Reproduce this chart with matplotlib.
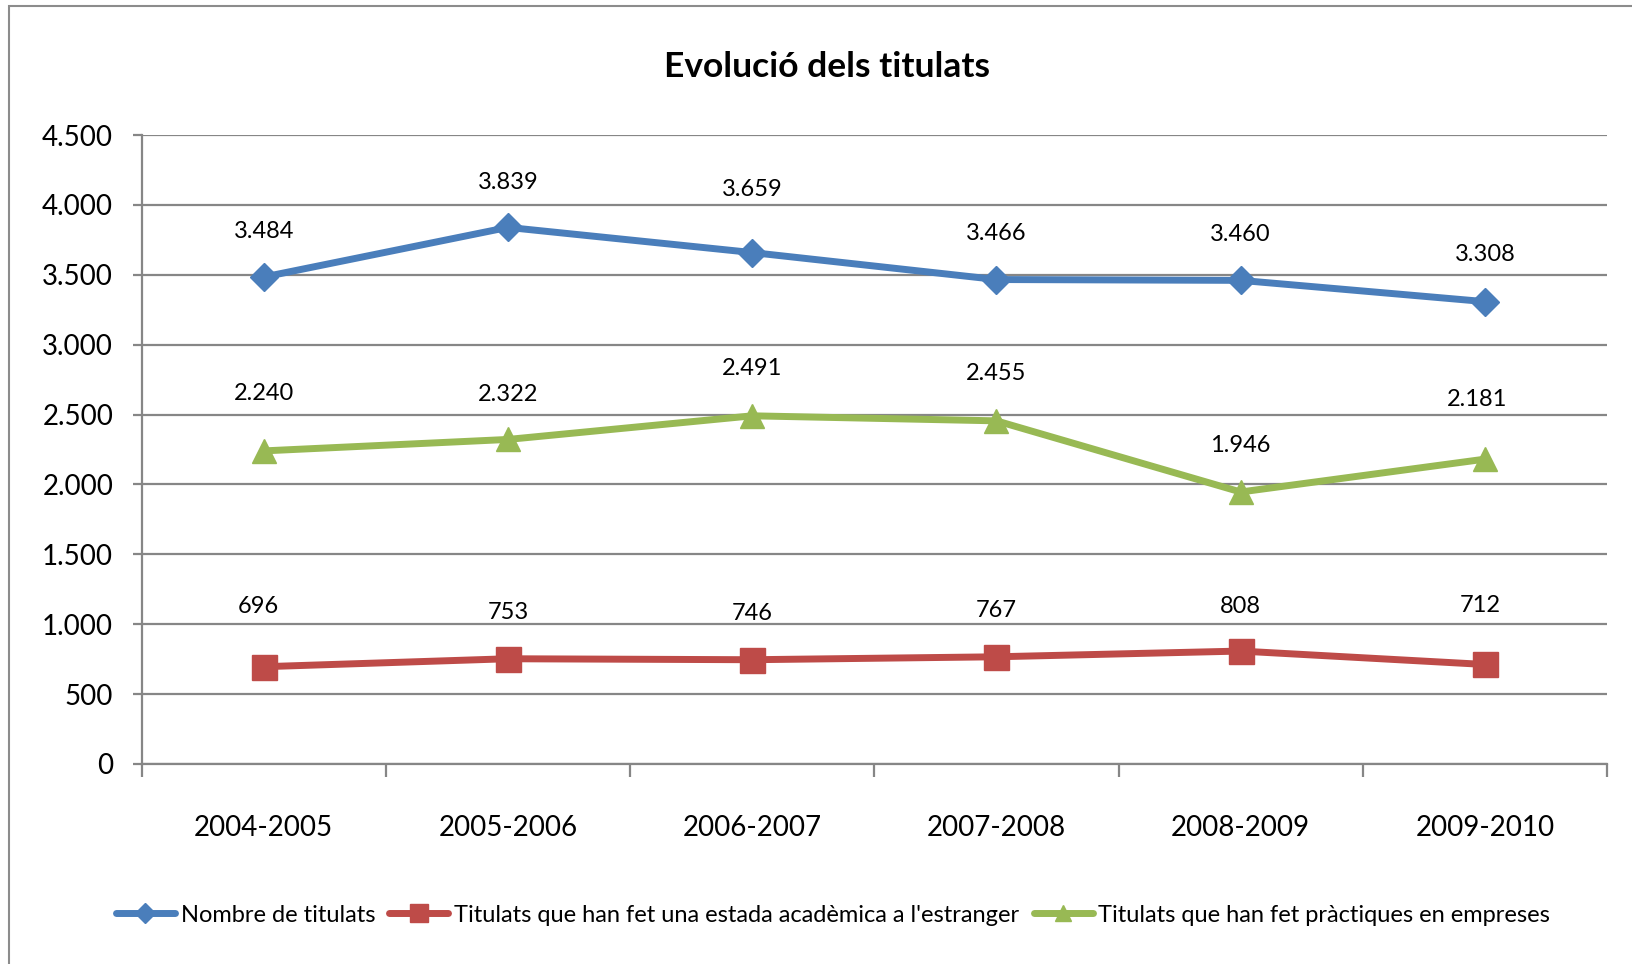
import numpy as np
import matplotlib
matplotlib.use("Agg")
import matplotlib.pyplot as plt
from matplotlib.patches import Rectangle

# Dades del gràfic
cursos = ['2004-2005', '2005-2006', '2006-2007', '2007-2008', '2008-2009', '2009-2010']
nombre_titulats = [3484, 3839, 3659, 3466, 3460, 3308]
estada_estranger = [696, 753, 746, 767, 808, 712]
practiques_empreses = [2240, 2322, 2491, 2455, 1946, 2181]

noms_series = ['Nombre de titulats',
               "Titulats que han fet una estada acadèmica a l'estranger",
               'Titulats que han fet pràctiques en empreses']

# Desplaçament de les etiquetes (píxels) respecte al punt
despl_y = {
    'blau': [46, 45, 63, 46, 46, 47],
    'vermell': [60, 46, 46, 46, 45, 59],
    'verd': [57, 45, 47, 47, 46, 60],
}
despl_x = {
    'blau': [0, 0, 0, 0, 0, 0],
    'vermell': [-5, 0, 0, 0, 0, -5],
    'verd': [0, 0, 0, 0, 0, -8],
}

colors = {'blau': '#4A7EBB', 'vermell': '#BE4B48', 'verd': '#98B954'}
gris = '#868686'

plt.rcParams['font.family'] = ['Lato', 'DejaVu Sans']

fig = plt.figure(figsize=(16.33, 9.64), dpi=100)
ax = fig.add_axes([141.6 / 1633, 1 - 764 / 964, (1607 - 141.6) / 1633, (764 - 135) / 964])

x = np.arange(len(cursos)) + 0.5
px = 72 / 100  # punts per píxel

series = [
    ('blau', nombre_titulats, 'D', 14, noms_series[0]),
    ('vermell', estada_estranger, 's', 18, noms_series[1]),
    ('verd', practiques_empreses, '^', 17, noms_series[2]),
]

for clau, valors, marcador, mida, nom in series:
    ax.plot(x, valors, color=colors[clau], lw=5, marker=marcador, ms=mida,
            label=nom, zorder=3, solid_capstyle='round')
    for i, v in enumerate(valors):
        etiqueta = f"{v:,}".replace(',', '.')
        ax.annotate(etiqueta, (x[i], v),
                    xytext=(despl_x[clau][i] * px, despl_y[clau][i] * px),
                    textcoords='offset points', ha='center', va='center',
                    fontsize=17, color='black')

# Eixos
ax.set_xlim(0, len(cursos))
ax.set_ylim(0, 4500)
ax.set_yticks(np.arange(0, 4501, 500))
ax.set_yticklabels([f"{int(v):,}".replace(',', '.') for v in np.arange(0, 4501, 500)], fontsize=20)
ax.grid(axis='y', color=gris, lw=1.6, zorder=1)
ax.set_axisbelow(True)

ax.set_xticks(np.arange(0, len(cursos) + 1))
ax.set_xticklabels([])
ax.set_xticks(x, minor=True)
ax.set_xticklabels(cursos, minor=True, fontsize=20)
ax.tick_params(axis='x', which='major', length=9.4, width=1.6, color=gris, direction='out')
ax.tick_params(axis='x', which='minor', length=0, pad=37)
ax.tick_params(axis='y', length=6.5, width=1.6, color=gris, pad=14)

for s in ['top', 'right']:
    ax.spines[s].set_visible(False)
for s in ['left', 'bottom']:
    ax.spines[s].set_color(gris)
    ax.spines[s].set_linewidth(1.6)

# Títol
fig.text(827 / 1633, 1 - 77 / 964, 'Evolució dels titulats', ha='center', va='baseline',
         fontsize=25.5, fontweight='bold')

# Llegenda
fig.legend(loc='center', bbox_to_anchor=(833 / 1633, 1 - 915 / 964), ncol=3, frameon=False,
           fontsize=17, handlelength=2.5, handletextpad=0.25, columnspacing=0.6,
           markerscale=0.7)

# Marc del gràfic
fig.add_artist(Rectangle((9 / 1633, -0.1), 1.2, 0.1 + 1 - 6 / 964, transform=fig.transFigure,
                         fill=False, edgecolor='#8c8c8c', lw=1.5, clip_on=False))

fig.savefig('out.png', dpi=100)
